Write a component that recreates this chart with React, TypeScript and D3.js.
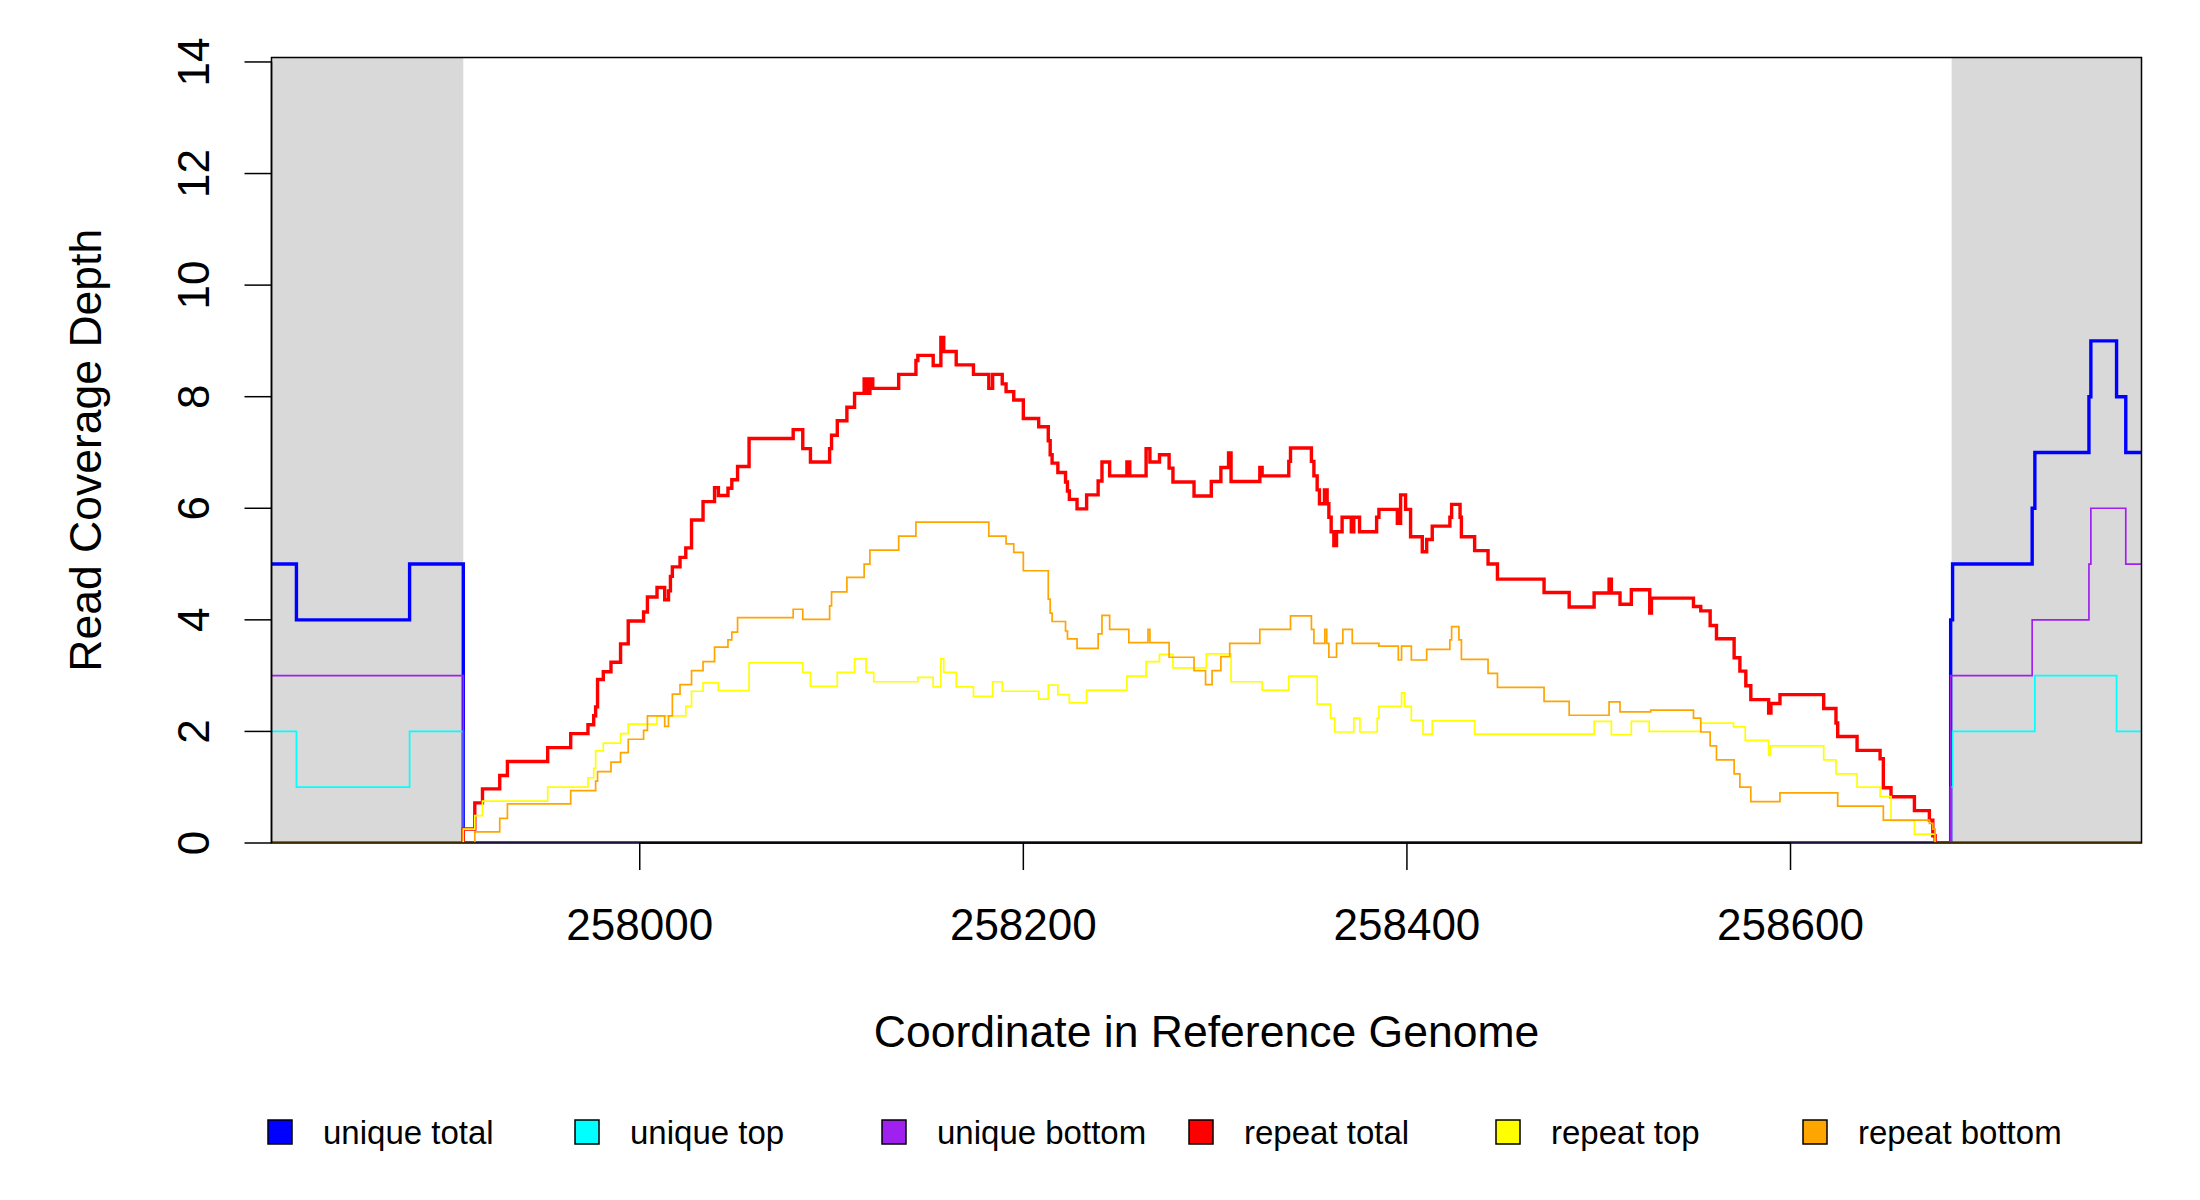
import React from "react";
import * as d3 from "d3";

type Step = [number, number];

// ---- axis / region values ----
const xStart = 257808;
const xEnd = 258783;
const maskedLeftEnd = 257908;
const maskedRightStart = 258684;
const xTicks = [258000, 258200, 258400, 258600];
const yTicks = [0, 2, 4, 6, 8, 10, 12, 14];
const yMax = 14.08;

// ---- series: [start coordinate, depth] (step holds until next start) ----
const uniqueTotal: Step[] = [
  [257808, 5], [257821, 4], [257880, 5], [257908, 0],
  [258683.5, 4], [258684.5, 5], [258726, 6], [258727.4, 7],
  [258755.6, 8], [258756.6, 9], [258770, 8], [258774.8, 7],
];

const uniqueTop: Step[] = [
  [257808, 2], [257821, 1], [257880, 2], [257908, 0],
  [258683.5, 1], [258684.5, 2], [258727.4, 3], [258770, 2],
];

const uniqueBottom: Step[] = [
  [257808, 3], [257908, 0],
  [258683.5, 3], [258726, 4], [258755.6, 5], [258756.6, 6], [258774.8, 5],
];

const repeatTotal: Step[] = [
  [257808, 0], [257908, 0.25], [257914, 0.72], [257918, 0.97], [257927, 1.21],
  [257931, 1.46], [257952, 1.71], [257964, 1.96], [257973, 2.12], [257976, 2.28],
  [257977, 2.44], [257978, 2.93], [257981, 3.07], [257985, 3.24], [257990, 3.57],
  [257994, 3.98], [258002, 4.14], [258004, 4.41], [258009, 4.58], [258013, 4.36],
  [258015, 4.52], [258016, 4.78], [258017, 4.95], [258021, 5.12], [258024, 5.29],
  [258027, 5.79], [258033, 6.12], [258039, 6.37], [258041, 6.23], [258046, 6.36],
  [258048, 6.51], [258051, 6.75], [258057, 7.25], [258080, 7.41], [258085, 7.07],
  [258089, 6.83], [258099, 7.07], [258100, 7.31], [258103, 7.57], [258108, 7.81],
  [258112, 8.06], [258117, 8.32], [258118.5, 8.06], [258120, 8.32], [258121.5, 8.15],
  [258135, 8.4], [258144, 8.65], [258145, 8.74], [258153, 8.56], [258157, 9.06],
  [258158.5, 8.81], [258165, 8.57], [258174, 8.4], [258182, 8.15], [258184, 8.4],
  [258189, 8.23], [258191, 8.09], [258195, 7.94], [258200, 7.61], [258208, 7.46],
  [258213, 7.21], [258214, 6.96], [258215, 6.81], [258218, 6.64], [258222, 6.47],
  [258223, 6.31], [258224, 6.16], [258228, 5.99], [258233, 6.24], [258239, 6.49],
  [258241, 6.83], [258245, 6.58], [258254, 6.83], [258255.5, 6.58], [258264, 7.07],
  [258266, 6.83], [258271, 6.96], [258276, 6.72], [258278, 6.47], [258289, 6.22],
  [258298, 6.48], [258303, 6.73], [258307, 6.99], [258308.3, 6.48], [258323.3, 6.73],
  [258324.5, 6.58], [258338.4, 6.84], [258339.3, 7.08], [258350.2, 6.84], [258351.5, 6.58],
  [258353.2, 6.33], [258354.4, 6.08], [258357, 6.33], [258358.4, 6.08], [258359.3, 5.84],
  [258360.5, 5.58], [258361.9, 5.33], [258363.3, 5.58], [258366.2, 5.84], [258371, 5.58],
  [258372.3, 5.84], [258375.3, 5.58], [258384.2, 5.84], [258385.4, 5.98], [258395, 5.73],
  [258396.7, 6.24], [258399.3, 5.98], [258401.9, 5.49], [258408, 5.22], [258410.3, 5.44],
  [258413.2, 5.68], [258422.4, 5.84], [258423.3, 6.07], [258427.7, 5.84], [258428.4, 5.49],
  [258435.3, 5.24], [258442.3, 5.0], [258447.2, 4.73], [258471.5, 4.49], [258484.6, 4.23],
  [258497.6, 4.48], [258505.4, 4.73], [258506.6, 4.48], [258511.1, 4.28], [258517, 4.54],
  [258526.6, 4.12], [258527.5, 4.39], [258549.4, 4.24], [258553.2, 4.16], [258558.1, 3.9],
  [258561.4, 3.66], [258570.6, 3.32], [258573.6, 3.08], [258576.7, 2.82], [258579.3, 2.57],
  [258588.6, 2.33], [258589.8, 2.5], [258594.5, 2.66], [258617.3, 2.41], [258623.7, 2.15],
  [258624.6, 1.91], [258634.7, 1.66], [258646.7, 1.51], [258648.4, 0.99], [258652.4, 0.83],
  [258664.6, 0.58], [258672.4, 0.41], [258674.2, 0.13], [258675.4, 0],
];

const repeatTop: Step[] = [
  [257808, 0], [257908, 0.25], [257914, 0.49], [257918, 0.75], [257952, 1.0],
  [257973, 1.17], [257976, 1.34], [257977, 1.65], [257981, 1.79], [257990, 1.96],
  [257994, 2.13], [258009, 2.28], [258024, 2.45], [258027, 2.72], [258033, 2.87],
  [258041, 2.73], [258057, 3.23], [258085, 3.06], [258089, 2.81], [258103, 3.06],
  [258112, 3.3], [258118, 3.06], [258122, 2.89], [258145, 2.97], [258153, 2.8],
  [258157, 3.3], [258158.5, 3.06], [258165, 2.8], [258174, 2.63], [258184, 2.89],
  [258189, 2.72], [258208, 2.58], [258213, 2.83], [258218, 2.66], [258224, 2.51],
  [258233, 2.74], [258254, 2.99], [258264, 3.25], [258271, 3.38], [258278, 3.14],
  [258295.4, 3.39], [258308.3, 2.89], [258324.5, 2.74], [258338.4, 2.99], [258353.2, 2.49],
  [258360.2, 2.24], [258362.4, 1.99], [258372.3, 2.24], [258375.5, 1.99], [258384.5, 2.24],
  [258385.4, 2.45], [258397.2, 2.69], [258398.8, 2.45], [258402.3, 2.2], [258408.4, 1.95],
  [258413.2, 2.19], [258435.3, 1.95], [258497.6, 2.18], [258506.6, 1.94], [258517, 2.18],
  [258526.3, 2.0], [258553.2, 2.15], [258570.3, 2.08], [258576.4, 1.84], [258588.6, 1.57],
  [258589.4, 1.74], [258617.3, 1.49], [258623.7, 1.24], [258634.7, 1.0], [258646.7, 0.83],
  [258652.4, 0.4], [258664.6, 0.16], [258675.4, 0],
];

const repeatBottom: Step[] = [
  [257808, 0], [257914, 0.2], [257927, 0.44], [257931, 0.7], [257964, 0.94],
  [257977, 1.11], [257978, 1.28], [257985, 1.45], [257990, 1.62], [257994, 1.86],
  [258002, 2.02], [258004, 2.28], [258013, 2.09], [258015, 2.28], [258017, 2.67],
  [258021, 2.84], [258027, 3.09], [258033, 3.25], [258039, 3.51], [258046, 3.64],
  [258048, 3.78], [258051, 4.04], [258080, 4.19], [258085, 4.01], [258099, 4.25],
  [258100, 4.5], [258108, 4.76], [258117, 5.0], [258120, 5.25], [258135, 5.5],
  [258144, 5.75], [258182, 5.5], [258191, 5.36], [258195, 5.21], [258200, 4.88],
  [258213, 4.37], [258214, 4.12], [258215, 3.97], [258222, 3.8], [258223, 3.66],
  [258228, 3.49], [258239, 3.75], [258241, 4.08], [258245, 3.83], [258255, 3.59],
  [258265, 3.83], [258266, 3.59], [258276, 3.33], [258289, 3.09], [258295, 2.84],
  [258298.4, 3.09], [258303, 3.34], [258307.6, 3.58], [258323.3, 3.83], [258339.3, 4.07],
  [258350.2, 3.83], [258351.5, 3.58], [258357.2, 3.83], [258358.2, 3.58], [258359.3, 3.33],
  [258363.3, 3.58], [258366.6, 3.83], [258371.5, 3.58], [258385.4, 3.53], [258395.5, 3.28],
  [258397.2, 3.53], [258402.3, 3.28], [258410.3, 3.47], [258422.4, 3.64], [258423.3, 3.88],
  [258427.1, 3.64], [258428.4, 3.29], [258442.3, 3.04], [258447.2, 2.79], [258471.5, 2.54],
  [258484.6, 2.29], [258505.4, 2.53], [258511.1, 2.35], [258527.1, 2.38], [258549.4, 2.24],
  [258553.2, 1.99], [258558.1, 1.74], [258561.4, 1.49], [258570.6, 1.24], [258573.6, 1.0],
  [258579.3, 0.74], [258594.5, 0.9], [258624.6, 0.66], [258648.4, 0.41], [258672.4, 0.35],
  [258674.2, 0.25], [258675.4, 0],
];

const seriesNames = ["unique total", "unique top", "unique bottom", "repeat total", "repeat top", "repeat bottom"];
const seriesData = [uniqueTotal, uniqueTop, uniqueBottom, repeatTotal, repeatTop, repeatBottom];
const seriesColors = ["#0000FF", "#00FFFF", "#A020F0", "#FF0000", "#FFFF00", "#FFA500"];
const seriesWidths = [3.4, 1.7, 1.7, 3.4, 1.7, 1.7];

const xLabel = "Coordinate in Reference Genome";
const yLabel = "Read Coverage Depth";

const W = 2200;
const H = 1200;
const plot = { left: 271.5, right: 2141.5, top: 57.5, bottom: 843 };
const FONT = "'Liberation Sans', Arial, Helvetica, sans-serif";

export default function App() {
  const x = d3.scaleLinear().domain([xStart, xEnd]).range([plot.left, plot.right]);
  const y = d3.scaleLinear().domain([0, yMax]).range([plot.bottom, plot.top]);
  const line = d3
    .line<Step>()
    .x((d) => x(d[0]))
    .y((d) => y(d[1]))
    .curve(d3.curveStepAfter);

  const pathFor = (s: Step[]) => line([...s, [xEnd, s[s.length - 1][1]]]) || "";

  return (
    <svg
      width={W}
      height={H}
      viewBox={`0 0 ${W} ${H}`}
      style={{ position: "absolute", left: 0, top: 0, display: "block", background: "#fff" }}
      fontFamily={FONT}
    >
      <defs>
        <clipPath id="plotClip">
          <rect x={plot.left} y={plot.top} width={plot.right - plot.left} height={plot.bottom - plot.top} />
        </clipPath>
      </defs>
      <rect x={0} y={0} width={W} height={H} fill="#fff" />
      {/* masked flanks */}
      <rect
        x={x(xStart)}
        y={plot.top}
        width={x(maskedLeftEnd) - x(xStart)}
        height={plot.bottom - plot.top}
        fill="#D9D9D9"
      />
      <rect
        x={x(maskedRightStart)}
        y={plot.top}
        width={x(xEnd) - x(maskedRightStart)}
        height={plot.bottom - plot.top}
        fill="#D9D9D9"
      />
      {/* series */}
      <g clipPath="url(#plotClip)">
        {seriesData.map((s, i) => (
          <path
            key={seriesNames[i]}
            d={pathFor(s)}
            fill="none"
            stroke={seriesColors[i]}
            strokeWidth={seriesWidths[i]}
            strokeLinejoin="miter"
            strokeLinecap="butt"
          />
        ))}
      </g>
      {/* box */}
      <rect
        x={plot.left}
        y={plot.top}
        width={plot.right - plot.left}
        height={plot.bottom - plot.top}
        fill="none"
        stroke="#000"
        strokeWidth={1.5}
      />
      {/* y axis */}
      <line x1={plot.left} x2={plot.left} y1={y(0)} y2={y(14)} stroke="#000" strokeWidth={1.5} />
      {yTicks.map((t) => (
        <g key={"y" + t}>
          <line x1={plot.left - 27} x2={plot.left} y1={y(t)} y2={y(t)} stroke="#000" strokeWidth={1.5} />
          <text
            transform={`translate(${plot.left - 63},${y(t)}) rotate(-90)`}
            textAnchor="middle"
            fontSize={44}
            fill="#000"
          >
            {t}
          </text>
        </g>
      ))}
      {/* x axis */}
      <line
        x1={x(xTicks[0])}
        x2={x(xTicks[xTicks.length - 1])}
        y1={plot.bottom}
        y2={plot.bottom}
        stroke="#000"
        strokeWidth={1.5}
      />
      {xTicks.map((t) => (
        <g key={"x" + t}>
          <line x1={x(t)} x2={x(t)} y1={plot.bottom} y2={plot.bottom + 27} stroke="#000" strokeWidth={1.5} />
          <text x={x(t)} y={940} textAnchor="middle" fontSize={44} fill="#000">
            {t}
          </text>
        </g>
      ))}
      {/* axis titles */}
      <text x={(plot.left + plot.right) / 2} y={1047} textAnchor="middle" fontSize={44.5} fill="#000">
        {xLabel}
      </text>
      <text
        transform={`translate(101,${(plot.top + plot.bottom) / 2}) rotate(-90)`}
        textAnchor="middle"
        fontSize={44.5}
        fill="#000"
      >
        {yLabel}
      </text>
      {/* legend */}
      {seriesNames.map((n, i) => {
        const bx = 268 + i * 307;
        return (
          <g key={"leg" + n}>
            <rect x={bx} y={1120} width={24} height={24} fill={seriesColors[i]} stroke="#000" strokeWidth={1.5} />
            <text x={bx + 55} y={1144} fontSize={33} fill="#000">
              {n}
            </text>
          </g>
        );
      })}
    </svg>
  );
}
